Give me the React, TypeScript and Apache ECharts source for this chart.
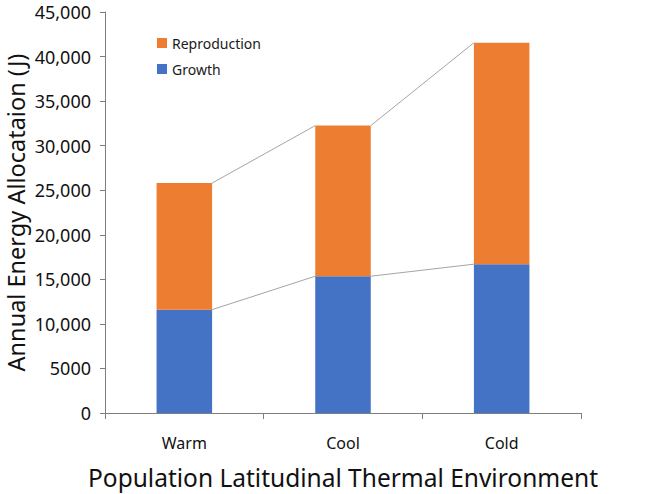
import React, { useEffect, useRef } from "react";
import * as echarts from "echarts";

const categories = ["Warm", "Cool", "Cold"];
const growth = [11600, 15350, 16700];
const reproduction = [14200, 16900, 24850];
const yTicks = { min: 0, max: 45000, interval: 5000 };

const BAR_FRAC = 0.35;

export default function App() {
  const ref = useRef<HTMLDivElement>(null);
  useEffect(() => {
    if (!ref.current) return;
    const chart = echarts.init(ref.current, null, { renderer: "svg" });
    const totals = growth.map((g, i) => g + reproduction[i]);
    const lineData: number[][] = [];
    for (let i = 0; i < categories.length - 1; i++) {
      lineData.push([i, growth[i], growth[i + 1]]);
      lineData.push([i, totals[i], totals[i + 1]]);
    }
    const font = "'Noto Sans', 'Open Sans', sans-serif";
    chart.setOption({
      animation: false,
      textStyle: { fontFamily: font },
      grid: { left: 105, right: 80, top: 12, bottom: 81, containLabel: false, outerBoundsMode: "none" },
      legend: {
        orient: "vertical",
        left: 152,
        top: 31,
        itemWidth: 10,
        itemHeight: 10,
        itemGap: 12,
        icon: "rect",
        textStyle: { fontSize: 14, color: "#1a1a1a", fontFamily: font },
        data: ["Reproduction", "Growth"],
      },
      xAxis: {
        type: "category",
        data: categories,
        name: "Population Latitudinal Thermal Environment",
        nameLocation: "middle",
        nameGap: 52,
        nameMoveOverlap: false,
        nameTextStyle: { fontSize: 24.5, color: "#111", fontFamily: font },
        axisLine: { lineStyle: { color: "#7f7f7f" } },
        axisTick: { show: true, alignWithLabel: false, length: 6, lineStyle: { color: "#7f7f7f" } },
        axisLabel: { fontSize: 16, color: "#111", margin: 22, fontFamily: font },
      },
      yAxis: {
        type: "value",
        min: yTicks.min,
        max: yTicks.max,
        interval: yTicks.interval,
        name: "Annual Energy Allocataion (J)",
        nameLocation: "middle",
        nameGap: 76,
        nameMoveOverlap: false,
        nameTextStyle: { fontSize: 23.5, lineHeight: 26, color: "#111", fontFamily: font },
        axisLine: { show: true, lineStyle: { color: "#7f7f7f" } },
        axisTick: { show: true, length: 5, lineStyle: { color: "#7f7f7f" } },
        splitLine: { show: false },
        axisLabel: {
          fontSize: 18,
          color: "#111",
          margin: 14,
          fontFamily: font,
          formatter: (v: number) => (v >= 10000 ? v.toLocaleString("en-US") : String(v)),
        },
      },
      series: [
        {
          name: "Growth",
          type: "bar",
          stack: "total",
          barWidth: BAR_FRAC * 100 + "%",
          data: growth,
          itemStyle: { color: "#4472C4" },
        },
        {
          name: "Reproduction",
          type: "bar",
          stack: "total",
          barWidth: BAR_FRAC * 100 + "%",
          data: reproduction,
          itemStyle: { color: "#ED7D31" },
        },
        {
          type: "custom",
          silent: true,
          data: lineData,
          encode: { x: 0, y: 1 },
          renderItem: (params: any, api: any) => {
            const i = api.value(0);
            const a = api.coord([i, api.value(1)]);
            const b = api.coord([i + 1, api.value(2)]);
            const half = (api.size([1, 0])[0] * BAR_FRAC) / 2;
            return {
              type: "line",
              shape: { x1: a[0] + half, y1: a[1], x2: b[0] - half, y2: b[1] },
              style: { stroke: "#a5a5a5", lineWidth: 1 },
            };
          },
          z: 1,
        },
      ],
    });
    return () => chart.dispose();
  }, []);
  return <div ref={ref} style={{ width: 661, height: 494, position: "absolute", left: 0, top: 0 }} />;
}
